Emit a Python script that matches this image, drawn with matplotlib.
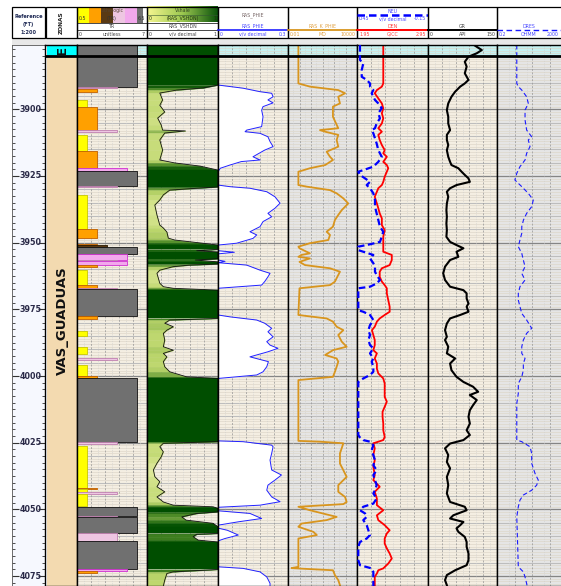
import matplotlib
matplotlib.use("Agg")
import matplotlib.pyplot as plt
from matplotlib.colors import LinearSegmentedColormap
from matplotlib.patches import Rectangle
import numpy as np

D_TOP, D_BOT = 3875.9, 4078.7
ZONE_TOP = 3880.0
ZONE_NAME = "VAS_GUADUAS"
depth_labels = [3900, 3925, 3950, 3975, 4000, 4025, 4050, 4075]

# lithology code track (TR, 0-7)
tr_top = [3875.9, 3891.5, 3892.5, 3896.5, 3899.1, 3907.8, 3909.6, 3915.6, 3922.0, 3923.1,
          3928.7, 3932.1, 3944.9, 3950.5, 3951.0, 3951.6, 3954.3, 3956.5, 3957.0, 3958.4,
          3960.2, 3965.9, 3967.0, 3967.4, 3977.5, 3983.1, 3989.1, 3993.4, 3995.9, 4000.0,
          4000.8, 4024.8, 4026.2, 4041.8, 4042.4, 4043.6, 4044.2, 4049.1, 4052.3, 4052.7,
          4058.9, 4061.9, 4072.4, 4072.9]
tr_base = [3891.5, 3892.2, 3893.5, 3899.1, 3907.8, 3908.5, 3915.6, 3922.0, 3923.1, 3928.7,
           3929.2, 3944.9, 3948.3, 3951.0, 3951.6, 3954.3, 3956.5, 3957.0, 3958.4, 3959.1,
           3965.9, 3967.0, 3967.4, 3977.5, 3978.6, 3985.0, 3991.8, 3993.8, 4000.0, 4000.6,
           4024.8, 4025.3, 4041.8, 4042.4, 4043.6, 4044.2, 4048.8, 4052.3, 4052.7, 4058.9,
           4061.9, 4072.4, 4072.9, 4073.9]
tr_code = [6, 4, 2, 1, 2, 4, 1, 2, 5, 6, 4, 1, 2, 2, 3, 6, 5, 4, 5, 2, 1, 2, 4, 6, 2, 1, 1, 4,
           1, 2, 6, 4, 1, 2, 1, 4, 1, 6, 4, 6, 4, 6, 5, 2]

# RAS_VSHDN (v/v)
vsh_depth = [3875.9, 3890.9, 3892.0, 3892.8, 3893.9, 3896.5, 3898.5, 3901.0, 3903.3, 3905.9,
             3907.8, 3908.1, 3908.9, 3911.5, 3915.3, 3919.0, 3920.1, 3921.3, 3922.8, 3929.1,
             3929.5, 3930.3, 3932.1, 3934.0, 3935.9, 3939.6, 3943.4, 3944.5, 3946.0, 3948.3,
             3949.0, 3950.1, 3950.9, 3952.5, 3953.0, 3953.5, 3956.0, 3956.5, 3957.2, 3958.0,
             3958.4, 3959.0, 3960.3, 3961.5, 3965.2, 3966.5, 3967.1, 3967.8, 3978.4, 3979.0,
             3980.2, 3981.5, 3982.8, 3984.0, 3986.5, 3989.0, 3990.3, 3991.5, 3992.8, 3994.6,
             3996.5, 3998.4, 4000.3, 4000.9, 4024.6, 4025.2, 4026.5, 4028.4, 4030.3, 4032.7,
             4035.2, 4037.7, 4039.6, 4041.5, 4043.4, 4045.3, 4047.2, 4048.4, 4049.0, 4049.6,
             4050.9, 4051.5, 4052.8, 4054.0, 4055.2, 4056.5, 4059.0, 4059.3, 4060.2, 4061.5,
             4062.2, 4072.5, 4073.4, 4074.0, 4076.5, 4078.7]
vsh = [1.0, 1.0, 0.79, 0.42, 0.18, 0.22, 0.18, 0.25, 0.15, 0.20, 0.22, 0.54, 0.25, 0.18, 0.22,
       0.18, 0.39, 0.75, 1.0, 1.0, 0.75, 0.32, 0.23, 0.18, 0.11, 0.14, 0.18, 0.23, 0.28, 0.30,
       0.39, 0.75, 1.0, 1.0, 0.7, 1.0, 1.0, 0.68, 1.0, 1.0, 0.6, 0.37, 0.18, 0.14, 0.18, 0.23,
       0.37, 1.0, 1.0, 0.32, 0.25, 0.37, 0.28, 0.23, 0.25, 0.23, 0.37, 0.23, 0.28, 0.23, 0.25,
       0.32, 0.56, 1.0, 1.0, 0.23, 0.18, 0.23, 0.20, 0.14, 0.09, 0.11, 0.18, 0.14, 0.25, 0.14,
       0.23, 0.37, 0.93, 1.0, 1.0, 0.7, 0.49, 0.55, 0.93, 1.0, 1.0, 0.7, 0.65, 0.72, 1.0, 1.0,
       0.37, 0.28, 0.25, 0.23]

# RAS_PHIE (v/v)
phie_depth = [3875.9, 3890.9, 3892.1, 3893.4, 3894.0, 3895.3, 3896.5, 3897.6, 3899.0, 3900.3,
              3902.8, 3906.5, 3907.8, 3908.4, 3909.0, 3910.3, 3912.1, 3914.0, 3915.3, 3917.8,
              3919.0, 3919.6, 3920.9, 3922.1, 3923.4, 3928.4, 3929.0, 3929.6, 3930.9, 3932.8,
              3935.2, 3937.1, 3939.0, 3940.3, 3942.1, 3944.0, 3945.9, 3947.1, 3948.4, 3950.2,
              3950.9, 3953.0, 3953.6, 3954.2, 3956.5, 3957.0, 3957.5, 3958.4, 3960.3, 3961.5,
              3962.8, 3964.6, 3965.9, 3967.1, 3977.1, 3977.8, 3979.0, 3980.2, 3982.1, 3983.4,
              3985.3, 3987.1, 3988.4, 3989.6, 3990.9, 3992.8, 3994.6, 3996.5, 3998.4, 3999.6,
              4000.9, 4024.3, 4024.6, 4025.9, 4026.5, 4029.0, 4031.5, 4035.2, 4037.1, 4039.0,
              4040.9, 4042.8, 4045.3, 4047.1, 4048.4, 4049.2, 4050.5, 4051.5, 4053.4, 4054.6,
              4055.9, 4057.0, 4057.8, 4059.6, 4060.9, 4061.8, 4071.5, 4072.1, 4073.4, 4075.3,
              4077.7, 4078.7]
phie = [0.0, 0.0, 0.108, 0.18, 0.23, 0.236, 0.214, 0.236, 0.193, 0.187, 0.193, 0.187, 0.123,
        0.116, 0.18, 0.214, 0.223, 0.236, 0.20, 0.15, 0.18, 0.10, 0.051, 0.01, 0.0, 0.0, 0.051,
        0.137, 0.209, 0.244, 0.266, 0.244, 0.214, 0.23, 0.193, 0.18, 0.137, 0.166, 0.15, 0.08,
        0.0, 0.0, 0.07, 0.0, 0.0, 0.03, 0.0, 0.123, 0.18, 0.223, 0.214, 0.20, 0.187, 0.0, 0.0,
        0.051, 0.166, 0.20, 0.23, 0.214, 0.236, 0.209, 0.223, 0.257, 0.214, 0.137, 0.216, 0.209,
        0.193, 0.166, 0.0, 0.0, 0.108, 0.23, 0.236, 0.23, 0.223, 0.23, 0.272, 0.244, 0.214,
        0.209, 0.23, 0.266, 0.18, 0.0, 0.0, 0.137, 0.187, 0.09, 0.0, 0.0, 0.04, 0.087, 0.03,
        0.0, 0.0, 0.108, 0.18, 0.209, 0.223, 0.223]

# RAS_K_PHIE (mD)
k_depth = [3875.9, 3890.3, 3891.5, 3892.8, 3894.0, 3895.3, 3897.8, 3899.0, 3902.8, 3907.1,
           3907.8, 3908.4, 3909.6, 3911.5, 3914.0, 3915.9, 3917.8, 3919.0, 3920.9, 3922.1,
           3923.4, 3928.4, 3929.0, 3930.3, 3931.5, 3933.4, 3935.3, 3937.8, 3939.6, 3941.5,
           3944.0, 3945.9, 3947.1, 3949.0, 3950.2, 3951.5, 3952.1, 3954.0, 3954.6, 3955.3,
           3955.9, 3957.2, 3958.4, 3959.6, 3960.9, 3962.1, 3964.6, 3965.9, 3967.1, 3977.1,
           3977.5, 3978.4, 3979.6, 3981.5, 3982.8, 3984.6, 3987.1, 3989.0, 3990.3, 3992.1,
           3993.4, 3994.6, 3996.5, 3998.4, 4000.3, 4001.5, 4024.3, 4024.6, 4025.2, 4029.0,
           4032.8, 4035.3, 4037.8, 4040.9, 4043.4, 4045.3, 4047.2, 4048.0, 4049.0, 4050.3,
           4052.8, 4054.0, 4055.3, 4056.5, 4058.4, 4059.6, 4060.9, 4071.5, 4072.0, 4072.8,
           4074.6, 4076.5, 4078.4]
k_md = [0.08, 0.08, 0.8, 235, 910, 235, 330, 81, 81, 235, 6, 17, 235, 170, 235, 23, 45, 81,
        17, 0.8, 0.08, 0.08, 0.43, 45, 170, 650, 1740, 470, 235, 120, 81, 23, 45, 32, 0.8,
        0.08, 0.1, 0.8, 0.15, 0.08, 0.8, 0.1, 0.3, 45, 330, 235, 120, 45, 0.1, 0.08, 0.43, 23,
        81, 170, 650, 235, 470, 1260, 81, 17, 170, 235, 170, 120, 81, 0.08, 0.08, 6, 650, 330,
        330, 650, 1260, 235, 235, 910, 1260, 650, 0.08, 0.8, 170, 23, 0.15, 0.08, 1.6, 3.2,
        0.08, 0.08, 0.02, 81, 120, 235, 330]

# NEU (v/v, reversed scale) and DEN (g/cc)
neu_depth = [3875.9, 3881.5, 3882.8, 3885.3, 3887.8, 3889.0, 3890.3, 3891.5, 3892.8, 3894.0,
             3895.3, 3896.5, 3897.8, 3899.6, 3901.5, 3903.4, 3905.3, 3907.1, 3907.8, 3909.0,
             3910.9, 3912.8, 3915.3, 3917.8, 3919.7, 3921.5, 3922.8, 3923.4, 3924.6, 3925.9,
             3927.2, 3928.4, 3929.6, 3931.5, 3934.0, 3936.5, 3939.0, 3941.5, 3944.0, 3945.9,
             3947.8, 3949.7, 3950.6, 3951.5, 3952.8, 3954.6, 3955.9, 3957.7, 3959.0, 3960.9,
             3962.1, 3964.0, 3965.3, 3966.5, 3967.1, 3975.3, 3975.9, 3977.1, 3979.0, 3980.9,
             3982.8, 3984.6, 3986.5, 3988.4, 3989.6, 3991.5, 3993.4, 3994.6, 3996.5, 3998.4,
             3999.6, 4000.9, 4002.2, 4022.0, 4022.8, 4024.0, 4024.6, 4025.9, 4027.8, 4029.6,
             4031.5, 4033.4, 4035.3, 4037.1, 4039.0, 4040.9, 4042.8, 4044.0, 4045.9, 4047.8,
             4049.0, 4050.3, 4051.5, 4052.8, 4054.0, 4055.9, 4057.8, 4059.6, 4060.9, 4062.2,
             4064.0, 4069.0, 4070.9, 4072.1, 4073.4, 4075.3, 4078.7]
neu = [0.425, 0.425, 0.397, 0.41, 0.41, 0.368, 0.34, 0.34, 0.312, 0.326, 0.312, 0.298, 0.27,
       0.241, 0.27, 0.256, 0.284, 0.298, 0.326, 0.312, 0.298, 0.284, 0.27, 0.241, 0.27, 0.312,
       0.397, 0.439, 0.425, 0.382, 0.34, 0.368, 0.34, 0.312, 0.298, 0.298, 0.284, 0.27, 0.256,
       0.228, 0.241, 0.256, 0.34, 0.439, 0.439, 0.312, 0.34, 0.312, 0.298, 0.298, 0.284, 0.256,
       0.284, 0.34, 0.439, 0.439, 0.397, 0.34, 0.312, 0.34, 0.354, 0.34, 0.354, 0.34, 0.312,
       0.34, 0.312, 0.326, 0.312, 0.312, 0.34, 0.397, 0.439, 0.439, 0.43, 0.397, 0.34, 0.312,
       0.326, 0.312, 0.298, 0.312, 0.284, 0.312, 0.298, 0.284, 0.298, 0.312, 0.284, 0.312,
       0.397, 0.425, 0.382, 0.368, 0.397, 0.368, 0.354, 0.34, 0.368, 0.425, 0.439, 0.439,
       0.425, 0.326, 0.312, 0.312, 0.312]
den_depth = [3875.9, 3890.3, 3891.5, 3892.8, 3894.0, 3895.9, 3897.8, 3899.6, 3901.5, 3903.4,
             3905.3, 3907.1, 3908.4, 3909.6, 3911.5, 3913.4, 3915.3, 3916.5, 3917.8, 3919.7,
             3920.9, 3922.1, 3923.4, 3925.3, 3927.2, 3928.4, 3929.6, 3930.9, 3932.8, 3935.3,
             3937.1, 3939.0, 3940.9, 3943.4, 3945.3, 3947.8, 3953.4, 3954.6, 3956.5, 3958.4,
             3959.6, 3960.9, 3962.8, 3964.6, 3965.9, 3967.1, 3969.0, 3971.5, 3974.0, 3975.9,
             3977.1, 3978.4, 3979.6, 3981.5, 3982.8, 3984.6, 3986.5, 3988.4, 3990.3, 3991.5,
             3993.4, 3995.3, 3997.2, 3999.0, 4000.9, 4002.8, 4005.3, 4007.8, 4009.6, 4011.5,
             4013.4, 4015.3, 4017.8, 4020.3, 4022.8, 4024.0, 4025.2, 4027.1, 4029.6, 4031.5,
             4034.0, 4037.1, 4039.0, 4041.5, 4043.4, 4045.9, 4048.4, 4050.3, 4052.2, 4054.0,
             4055.9, 4057.8, 4059.0, 4060.9, 4062.8, 4064.6, 4066.5, 4068.4, 4070.3, 4072.1,
             4072.8, 4074.0, 4075.3, 4078.7]
den = [2.32, 2.32, 2.30, 2.23, 2.20, 2.25, 2.30, 2.32, 2.30, 2.32, 2.30, 2.25, 2.30, 2.25, 2.27,
       2.30, 2.34, 2.32, 2.37, 2.32, 2.37, 2.39, 2.37, 2.34, 2.32, 2.30, 2.25, 2.23, 2.20, 2.23,
       2.25, 2.27, 2.30, 2.30, 2.34, 2.32, 2.32, 2.44, 2.44, 2.41, 2.30, 2.27, 2.27, 2.30, 2.34,
       2.37, 2.37, 2.39, 2.41, 2.41, 2.34, 2.27, 2.23, 2.20, 2.16, 2.18, 2.20, 2.20, 2.18, 2.23,
       2.20, 2.23, 2.23, 2.25, 2.32, 2.34, 2.34, 2.34, 2.37, 2.34, 2.31, 2.31, 2.32, 2.32, 2.34,
       2.32, 2.18, 2.20, 2.18, 2.20, 2.18, 2.20, 2.18, 2.27, 2.20, 2.23, 2.23, 2.32, 2.23, 2.25,
       2.34, 2.41, 2.37, 2.34, 2.34, 2.37, 2.41, 2.44, 2.39, 2.32, 2.25, 2.23, 2.20, 2.20]

# GR (API)
gr_depth = [3875.9, 3877.8, 3879.0, 3880.3, 3882.2, 3884.0, 3886.5, 3889.0, 3890.3, 3891.5,
            3893.4, 3895.3, 3897.8, 3900.3, 3902.8, 3905.3, 3907.8, 3909.6, 3911.5, 3913.4,
            3915.3, 3917.8, 3919.7, 3920.9, 3922.1, 3923.4, 3924.6, 3925.9, 3927.2, 3928.4,
            3929.6, 3930.9, 3932.8, 3935.3, 3937.8, 3940.3, 3942.8, 3945.3, 3947.8, 3949.7,
            3950.9, 3952.1, 3953.4, 3955.3, 3956.5, 3959.0, 3961.5, 3964.0, 3966.5, 3967.8,
            3969.0, 3970.9, 3972.8, 3974.0, 3975.9, 3977.1, 3978.4, 3980.3, 3982.8, 3985.3,
            3986.5, 3989.0, 3991.5, 3993.4, 3995.3, 3997.8, 4000.3, 4002.2, 4004.0, 4005.9,
            4007.1, 4009.0, 4010.9, 4012.8, 4015.3, 4017.8, 4020.3, 4022.1, 4024.0, 4025.3,
            4027.1, 4029.6, 4032.2, 4034.6, 4037.8, 4040.9, 4044.0, 4047.2, 4049.0, 4050.3,
            4052.2, 4053.4, 4054.7, 4055.9, 4057.1, 4058.4, 4060.3, 4062.2, 4064.0, 4066.5,
            4069.0, 4070.9, 4072.8, 4074.6, 4076.5, 4078.4]
gr_api = [100, 117, 106, 88, 80, 84, 80, 88, 80, 70, 59, 51, 44, 41, 44, 44, 48, 41, 41, 44,
          41, 44, 48, 51, 66, 73, 80, 88, 91, 62, 48, 41, 44, 41, 40, 41, 40, 41, 40, 48, 62,
          77, 62, 66, 48, 37, 33, 37, 48, 77, 84, 84, 88, 84, 88, 70, 48, 41, 37, 41, 37, 44,
          41, 59, 48, 51, 62, 77, 98, 109, 91, 106, 98, 91, 88, 91, 84, 91, 77, 48, 37, 44, 41,
          48, 41, 44, 41, 48, 80, 84, 55, 48, 77, 70, 62, 66, 80, 84, 84, 88, 88, 84, 59, 41,
          37, 41]

# DRES (ohmm)
dres_depth = [3875.9, 3890.3, 3891.5, 3892.8, 3895.3, 3897.8, 3900.3, 3904.0, 3907.8, 3910.3,
              3911.5, 3914.0, 3916.5, 3919.0, 3921.5, 3924.0, 3926.5, 3929.0, 3931.5, 3934.0,
              3936.5, 3939.0, 3941.5, 3944.0, 3946.5, 3949.0, 3951.5, 3954.0, 3956.5, 3959.0,
              3961.5, 3964.0, 3966.5, 3969.0, 3971.5, 3974.0, 3976.5, 3979.0, 3982.1, 3984.0,
              3986.5, 3989.0, 3991.5, 3993.4, 3995.3, 3997.8, 4000.3, 4002.8, 4006.5, 4010.3,
              4014.0, 4024.0, 4024.6, 4026.5, 4029.0, 4032.7, 4036.5, 4039.0, 4040.9, 4042.8,
              4044.6, 4046.5, 4049.0, 4052.8, 4071.5, 4073.4, 4075.3, 4077.8, 4078.7]
dres = [2.7, 2.7, 3.3, 5.2, 9.9, 12.3, 8.0, 8.0, 9.9, 19.2, 12.3, 15.4, 9.9, 8.0, 4.1, 2.7,
        2.1, 5.2, 12.3, 23.7, 19.2, 9.9, 6.5, 5.2, 5.2, 4.1, 3.3, 5.2, 6.4, 8.0, 5.2, 8.0, 4.1,
        3.3, 3.3, 4.1, 5.2, 9.9, 19.2, 9.9, 6.4, 5.2, 5.2, 8.0, 6.4, 6.4, 5.2, 3.3, 3.3, 2.7,
        2.7, 2.7, 5.2, 15.4, 19.2, 19.2, 29.7, 45.8, 37, 19.2, 6.4, 4.1, 3.3, 2.7, 3.3, 6.4,
        8.0, 9.9, 10.5]

# ---------------- styling ----------------
W, H = 561, 586
TOP_PX, BOT_PX = 45, 586
BEIGE = '#F4EEE2'
GRAYBG = '#E5E5E5'
CYAN_BG = '#C4F1F1'
tr_colors = {1: '#FFFF00', 2: '#FFA000', 3: '#5A3A14', 4: '#EEC6E2', 5: '#F2A8EC', 6: '#707070'}
tr_edges = {1: '#C8C800', 2: '#C06000', 3: '#2A1A00', 4: '#C080B0', 5: '#D030D0', 6: '#111111'}
vcmap = LinearSegmentedColormap.from_list(
    'vsh', [(0, '#F2F4B4'), (0.25, '#BCD66C'), (0.6, '#4C8A26'), (1.0, '#004E00')])

fig = plt.figure(figsize=(W / 100, H / 100), dpi=100)
hdr = fig.add_axes([0, 0, 1, 1])
hdr.axis('off')


def track(x0, x1):
    ax = fig.add_axes([x0 / W, 1 - BOT_PX / H, (x1 - x0) / W, (BOT_PX - TOP_PX) / H])
    ax.set_ylim(D_BOT, D_TOP)
    return ax


def dress(ax, xlim, vmajor, vminor, bg, log=False):
    if log:
        ax.set_xscale('log')
    ax.set_xlim(*xlim)
    ax.set_ylim(D_BOT, D_TOP)
    ax.set_facecolor(bg)
    ax.tick_params(which='both', length=0, labelbottom=False, labelleft=False)
    ytr = ax.get_yaxis_transform()
    xtr = ax.get_xaxis_transform()
    ax.axhspan(ZONE_TOP, D_TOP, color=CYAN_BG, lw=0, zorder=0.1)
    ax.hlines(np.arange(3876, 4079, 1), 0, 1, transform=ytr, colors='#DDD6C8', lw=0.45, zorder=0.3)
    ax.hlines(np.arange(3880, 4079, 5), 0, 1, transform=ytr, colors='#BDBDBD', lw=0.75, zorder=0.35)
    ax.hlines(np.arange(3900, 4079, 25), 0, 1, transform=ytr, colors='#858585', lw=0.9, zorder=0.4)
    ax.vlines(vminor, 0, 1, transform=xtr, colors='#D0D0D0', lw=0.4, linestyles=(0, (2, 2)), zorder=0.45)
    ax.vlines(vmajor, 0, 1, transform=xtr, colors='#9A9A9A', lw=0.55, linestyles=(0, (2.5, 2)), zorder=0.5)
    for s in ax.spines.values():
        s.set_linewidth(1.0)
        s.set_zorder(6)
    ax.axhline(ZONE_TOP, color='k', lw=2, zorder=5)


# depth track
axd = track(12, 45)
axd.set_facecolor('#F6F8FE')
axd.set_xticks([])
axd.set_yticks(depth_labels)
axd.set_yticks(np.arange(3877.5, 4078.7, 2.5), minor=True)
axd.tick_params(axis='y', which='major', direction='in', left=True, right=True,
                labelleft=False, length=5, width=0.8, color='#333333')
axd.tick_params(axis='y', which='minor', direction='in', left=True, right=True,
                length=2.2, width=0.6, color='#333333')
for s in axd.spines.values():
    s.set_linewidth(0.6)
    s.set_color('#555555')
for d in depth_labels:
    axd.text(0.57, d, str(d), transform=axd.get_yaxis_transform(), ha='center', va='center',
             fontsize=5.8, fontweight='bold', color='#2A2A48')

# zone track
axz = track(45, 77)
axz.set_xlim(0, 1)
axz.tick_params(which='both', length=0, labelbottom=False, labelleft=False)
axz.axhspan(D_TOP, ZONE_TOP, xmin=0.06, xmax=1, color='#00FFFF', lw=0)
axz.axhspan(ZONE_TOP, D_BOT, xmin=0.06, xmax=1, color='#F3DAB0', lw=0)
axz.axhline(ZONE_TOP, color='k', lw=2)
axz.text(0.53, (ZONE_TOP + D_BOT) / 2, ZONE_NAME, rotation=90, ha='center', va='center',
         fontsize=9.5, fontweight='bold', color='#111111')
axz.text(0.53, ZONE_TOP - 0.3, 'E', rotation=90, ha='center', va='bottom', fontsize=9.5,
         fontweight='bold', color='#111111', clip_on=True)
for s in axz.spines.values():
    s.set_linewidth(1.0)

# TR track
axt = track(77, 147)
dress(axt, (0, 7), [1.4, 2.8, 4.2, 5.6], [0.7, 2.1, 3.5, 4.9, 6.3], BEIGE)
for top, base, code in zip(tr_top, tr_base, tr_code):
    axt.fill_betweenx([top, base], 0, code, facecolor=tr_colors[code],
                      edgecolor=tr_edges[code], lw=0.6, zorder=2)

# Vshale track
axv = track(147, 218)
dress(axv, (0, 1), [0.2, 0.4, 0.6, 0.8], [0.1, 0.3, 0.5, 0.7, 0.9], BEIGE)
for i in range(len(vsh_depth) - 1):
    c = vcmap(0.5 * (vsh[i] + vsh[i + 1]))
    axv.fill_betweenx(vsh_depth[i:i + 2], 0, vsh[i:i + 2], facecolor=c, edgecolor=c,
                      lw=0.3, zorder=2)
axv.plot(vsh, vsh_depth, color='#111111', lw=0.6, zorder=3)

# PHIE track
axp = track(218, 288)
dress(axp, (0, 0.3), [0.06, 0.12, 0.18, 0.24], [0.03, 0.09, 0.15, 0.21, 0.27], BEIGE)
axp.fill_betweenx(phie_depth, 0, phie, color='white', lw=0, zorder=2)
axp.plot(phie, phie_depth, color='#2020FF', lw=0.7, zorder=3)

# K track
axk = track(288, 357)
dress(axk, (0.01, 10000), [0.1, 1, 10, 100, 1000], [0.03, 0.3, 3, 30, 300, 3000], GRAYBG, log=True)
axk.plot(k_md, k_depth, color='#D8951E', lw=1.3, zorder=3)

# DEN / NEU track
axden = track(357, 428)
dress(axden, (1.95, 2.95), [2.15, 2.35, 2.55, 2.75], [2.05, 2.25, 2.45, 2.65, 2.85], BEIGE)
axden.plot(den, den_depth, color='#FF0000', lw=1.3, zorder=3)
axneu = track(357, 428)
axneu.set_xlim(0.45, -0.15)
axneu.patch.set_visible(False)
axneu.axis('off')
axneu.plot(neu, neu_depth, color='#0000FF', lw=1.6, ls=(0, (3, 1.6)), zorder=4)

# GR track
axg = track(428, 497)
dress(axg, (0, 150), [30, 60, 90, 120], [15, 45, 75, 105, 135], BEIGE)
axg.plot(gr_api, gr_depth, color='#000000', lw=1.5, zorder=3)

# DRES track
axr = track(497, 567)
dress(axr, (0.2, 2000), [2, 20, 200], [1, 10, 100, 1000], GRAYBG, log=True)
axr.plot(dres, dres_depth, color='#1A1AFF', lw=0.8, ls=(0, (4, 2.5)), zorder=3)

# ---------------- header (figure pixel space) ----------------
hdr.add_patch(Rectangle((12, 38), W - 12, 7, color='#E8E8E8', lw=0))


def hbox(x0, x1):
    hdr.add_patch(Rectangle((x0, 7), x1 - x0, 31, fill=False, ec='k', lw=0.9, zorder=4))


def htext(x, y, s, color='#555555', size=3.4, ha='center', **kw):
    hdr.text(x, y, s, ha=ha, va='center', fontsize=size, color=color, zorder=5, **kw)


def scale_row(x0, x1, y, left, mid, right, color):
    htext(x0 + 2, y, left, color, ha='left')
    htext((x0 + x1) / 2, y, mid, color)
    htext(x1 - 2, y, right, color, ha='right')


# depth header
hbox(12, 45)
for y, s in [(16.5, 'Reference'), (24.5, '(FT)'), (32, '1:200')]:
    htext(28.5, y, s, '#1F2A55', size=3.6, fontweight='bold')
hbox(46, 77)
htext(61.5, 22.5, 'ZONAS', '#222222', size=4.2, rotation=90, fontweight='bold')

# TR header with lithology colour key
seg = [(77, 89, 1), (89, 101, 2), (101, 113, 3), (113, 125, 4), (125, 137, 5), (137, 143, 6)]
for x0, x1, c in seg:
    hdr.add_patch(Rectangle((x0, 7), x1 - x0, 15.5, color=tr_colors[c], lw=0, zorder=2))
hdr.add_patch(Rectangle((143, 7), 4, 15.5, color='#FFFFFF', lw=0, zorder=2))
hbox(77, 147)
hdr.plot([77, 147], [22.5, 22.5], color='k', lw=0.5, zorder=4)
hdr.plot([77, 147], [30, 30], color='k', lw=0.5, zorder=4)
htext(112, 10.8, 'Lithologic', '#554433')
scale_row(77, 147, 18.5, '0.5', '(TR)', '6.5', '#333333')
htext(112, 26.3, 'TR', '#444444')
scale_row(77, 147, 34, '0', 'unitless', '7', '#444444')

# Vshale header with gradient key
hdr.imshow(np.linspace(0, 1, 200)[None, :],
           cmap=LinearSegmentedColormap.from_list('hv', ['#F6F690', '#9CC850', '#0A520A']),
           extent=(147, 218, 22.5, 7), aspect='auto', zorder=2)
hbox(147, 218)
hdr.plot([147, 218], [14.6, 14.6], color='#335533', lw=0.4, zorder=4)
hdr.plot([147, 218], [22.5, 22.5], color='k', lw=0.5, zorder=4)
hdr.plot([147, 218], [30, 30], color='k', lw=0.5, zorder=4)
htext(182.5, 10.8, 'Vshale', '#334422')
scale_row(147, 218, 18.5, '0', '(RAS_VSHDN)', '1', '#223311')
htext(182.5, 26.3, 'RAS_VSHDN', '#444444')
scale_row(147, 218, 34, '0', 'v/v decimal', '1', '#444444')

# PHIE header
hbox(218, 288)
htext(253, 15, 'RAS_PHIE', '#776666')
htext(253, 26.5, 'RAS_PHIE', '#4A4AFF')
hdr.plot([218, 288], [30.3, 30.3], color='#2020FF', lw=1.2, zorder=4)
scale_row(218, 288, 34, '0', 'v/v decimal', '0.3', '#4A4AFF')

# K header
hbox(288, 357)
htext(322.5, 26.5, 'RAS_K_PHIE', '#E0A040')
hdr.plot([288, 357], [30.3, 30.3], color='#D8951E', lw=1.3, zorder=4)
scale_row(288, 357, 34, '0.01', 'MD', '10000', '#E0A040')

# NEU/DEN header
hbox(357, 428)
htext(392.5, 11.5, 'NEU', '#4A4AFF')
hdr.plot([357, 428], [15, 15], color='#0000FF', lw=1.8, ls=(0, (3, 1.6)), zorder=4)
scale_row(357, 428, 19, '0.45', 'v/v decimal', '-0.15', '#4A4AFF')
htext(392.5, 26.5, 'DEN', '#FF4040')
hdr.plot([357, 428], [30.3, 30.3], color='#FF0000', lw=1.4, zorder=4)
scale_row(357, 428, 34, '1.95', 'G/CC', '2.95', '#FF4040')

# GR header
hbox(428, 497)
htext(462.5, 26.5, 'GR', '#444444')
hdr.plot([428, 497], [30.3, 30.3], color='#000000', lw=1.4, zorder=4)
scale_row(428, 497, 34, '0', 'API', '150', '#444444')

# DRES header (track runs past the right edge, keep its labels inside the picture)
hbox(497, 567)
htext(529, 26.5, 'DRES', '#4A4AFF')
hdr.plot([497, 567], [30.3, 30.3], color='#1A1AFF', lw=1.0, ls=(0, (4, 2.5)), zorder=4)
scale_row(497, 561, 34, '0.2', 'OHMM', '2000', '#4A4AFF')

hdr.set_xlim(0, W)
hdr.set_ylim(H, 0)

fig.savefig('out.png', dpi=100)
